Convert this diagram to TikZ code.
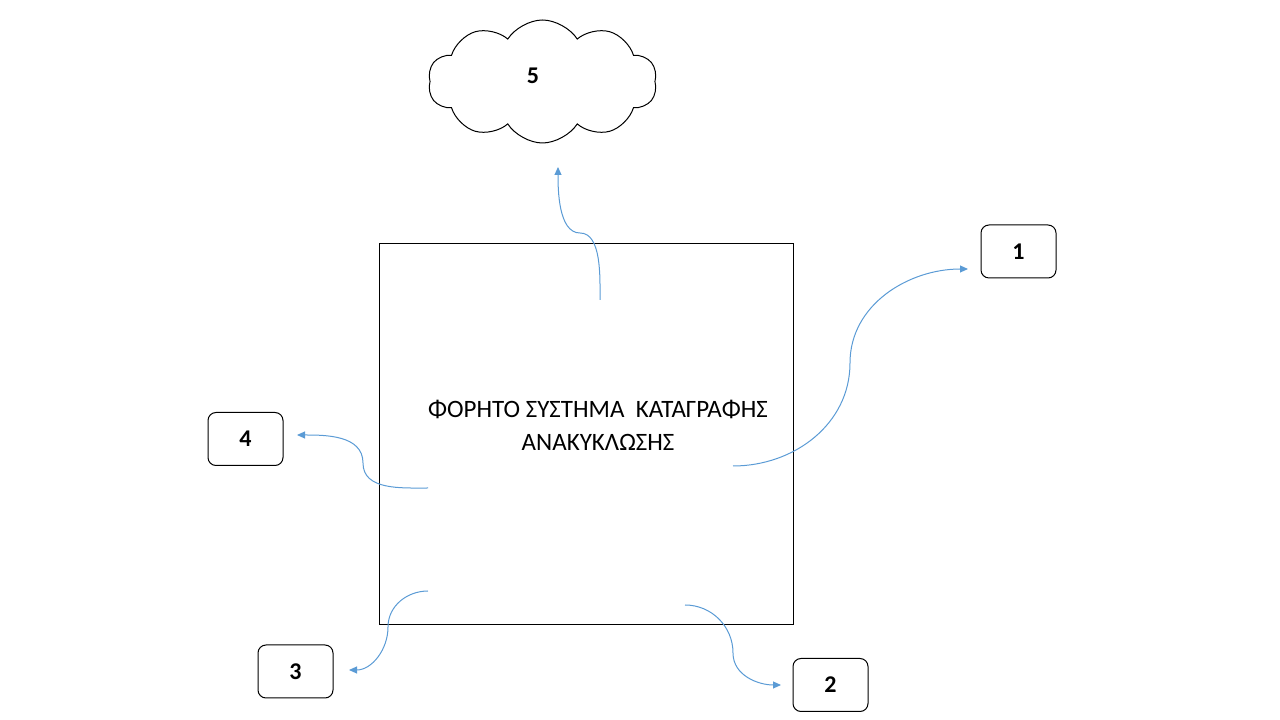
\documentclass[tikz,border=0pt]{standalone}
\usepackage{fontspec}
\setmainfont{Carlito}
\usetikzlibrary{shapes.symbols,arrows.meta}
\definecolor{conn}{HTML}{5B9BD5}
\tikzset{
  numbox/.style={draw=black,line width=1pt,rounded corners=8pt,minimum width=75pt,minimum height=53pt,inner sep=0pt,font=\fontsize{24}{28}\selectfont\bfseries},
  connector/.style={draw=conn,line width=1pt,-{Triangle[length=8pt,width=7pt]}},
}
\begin{document}
\begin{tikzpicture}[x=1pt,y=1pt]
\useasboundingbox (0,0) rectangle (1280,720);
% main rectangle
\node[draw=black,line width=1pt,minimum width=414pt,minimum height=381pt,inner sep=0pt] (main) at (586,285.5) {};
\node[align=center,font=\fontsize{25}{33}\selectfont] (title) at (598,295) {ΦΟΡΗΤΟ ΣΥΣΤΗΜΑ\ \ ΚΑΤΑΓΡΑΦΗΣ\\ΑΝΑΚΥΚΛΩΣΗΣ};
% boxes
\node[numbox] (b1) at (1018.5,468.5) {1};
\node[numbox] (b2) at (830.5,35) {2};
\node[numbox] (b3) at (295.5,48.5) {3};
\node[numbox] (b4) at (245.5,281) {4};
% cloud
\node[cloud,draw=black,line width=1pt,cloud puffs=10,cloud puff arc=115,minimum width=229pt,minimum height=123pt,inner sep=0pt] (b5) at (542.5,638.5) {};
\node[font=\fontsize{24}{28}\selectfont\bfseries] (l5) at (533,644) {5};
% connector coordinates
\coordinate (s1) at (733,254); \coordinate (m1) at (850,357); \coordinate (e1) at (968,451);
\coordinate (s2) at (685,115); \coordinate (m2) at (733,67); \coordinate (e2) at (781,35);
\coordinate (s3) at (428,129); \coordinate (m3) at (388,93); \coordinate (e3) at (349,50);
\coordinate (s4) at (428,232); \coordinate (m4) at (363,257); \coordinate (e4) at (297,285);
\coordinate (s5) at (600,420); \coordinate (m5) at (580,487); \coordinate (e5) at (558,553);
\draw[connector] (s1) to[out=0,in=-90] (m1) to[out=90,in=180] (e1);
\draw[connector] (s2) to[out=0,in=90] (m2) to[out=-90,in=180] (e2);
\draw[connector] (s3) to[out=180,in=90] (m3) to[out=-90,in=0] (e3);
\draw[connector] (s4) to[out=180,in=-90] (m4) to[out=90,in=0] (e4);
\draw[connector] (s5) to[out=90,in=0,looseness=0.8] (m5) to[out=180,in=-90,looseness=0.8] (e5);
\end{tikzpicture}
\end{document}
